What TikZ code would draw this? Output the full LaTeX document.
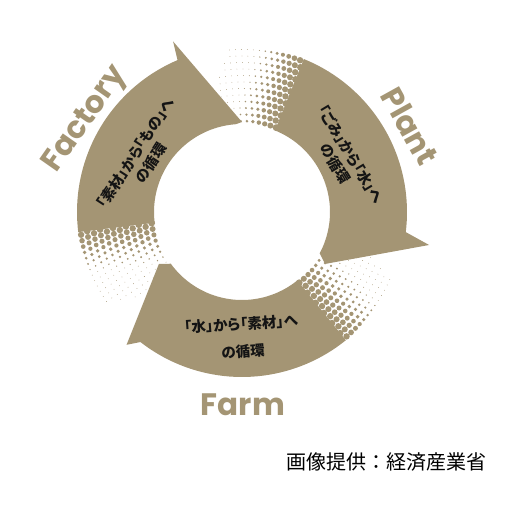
\documentclass[tikz,border=0pt]{standalone}
\usepackage{fontspec}
\newfontfamily\lblfont{Poppins}
\newfontfamily\jpfont{Noto Sans CJK JP}[RawFeature=+palt]
\newfontfamily\jpplain{Noto Sans CJK JP}
\definecolor{cyckhaki}{HTML}{A49574}
\definecolor{cycink}{HTML}{141414}
\tikzset{
  band/.style={fill=cyckhaki},
  htdot/.style={fill=cyckhaki},
  lbl/.style={font=\lblfont\bfseries\fontsize{31}{31}\selectfont, text=cyckhaki, inner sep=0pt},
  jp/.style={font=\jpfont\bfseries\fontsize{14.5}{18}\selectfont, align=center, text=cycink, inner sep=0pt},
  srcnote/.style={font=\jpplain\fontsize{20}{20}\selectfont, inner sep=0pt},
}
% halftone tail: #1 = angle where the solid band starts, #2 = fade length
\newcommand{\halftone}[2]{%
  \foreach \i in {0,...,11}{
    \foreach \k in {0,...,12}{
      \pgfmathsetmacro{\rr}{91+\i*6.5}
      \pgfmathsetmacro{\dd}{\k*6+mod(\i,2)*3}
      \pgfmathsetmacro{\aa}{#1-\dd/\rr*57.2958}
      \pgfmathsetmacro{\ss}{max(0.4,3.4*(1-\dd/#2))}
      \fill[htdot] (\aa:\rr) circle[radius=\ss pt];
    }}}

\begin{document}
\begin{tikzpicture}[x=1pt, y=-1pt]
  \useasboundingbox (0,0) rectangle (507,519);
  \begin{scope}[shift={(242,212)}]
    % Factory
    \fill[band] plot[domain=173:247, samples=40] (\x:165) -- (248:184) -- (270:90)
      -- plot[domain=266:173, samples=40] (\x:88) -- cycle;
    \halftone{173}{48}
    % Plant
    \fill[band] plot[domain=292:367, samples=40] (\x:165) -- (370:190) -- (392:98)
      -- plot[domain=388:292, samples=40] (\x:88) -- cycle;
    \halftone{292}{52}
    % Farm
    \fill[band] plot[domain=51:128, samples=40] (\x:165) -- (131:176) -- (148:98)
      -- plot[domain=144:51, samples=40] (\x:88) -- cycle;
    \halftone{51}{56}
  \end{scope}
  \node[lbl, rotate=55] (factory) at (86,120) {Factory};
  \node[lbl, rotate=-61] (plant) at (410,126) {Plant};
  \node[lbl] (farm) at (243,405) {Farm};
  \node[jp, rotate=57] (factorytxt) at (143,158) {「素材」から「もの」へ\\の循環};
  \node[jp, rotate=-59] (planttxt) at (343,159) {「ごみ」から「水」へ\\の循環};
  \node[jp, rotate=4] (farmtxt) at (242,338) {「水」から「素材」へ\\[10pt]の循環};
  \node[srcnote] (src) at (386,462) {画像提供：経済産業省};
\end{tikzpicture}
\end{document}
